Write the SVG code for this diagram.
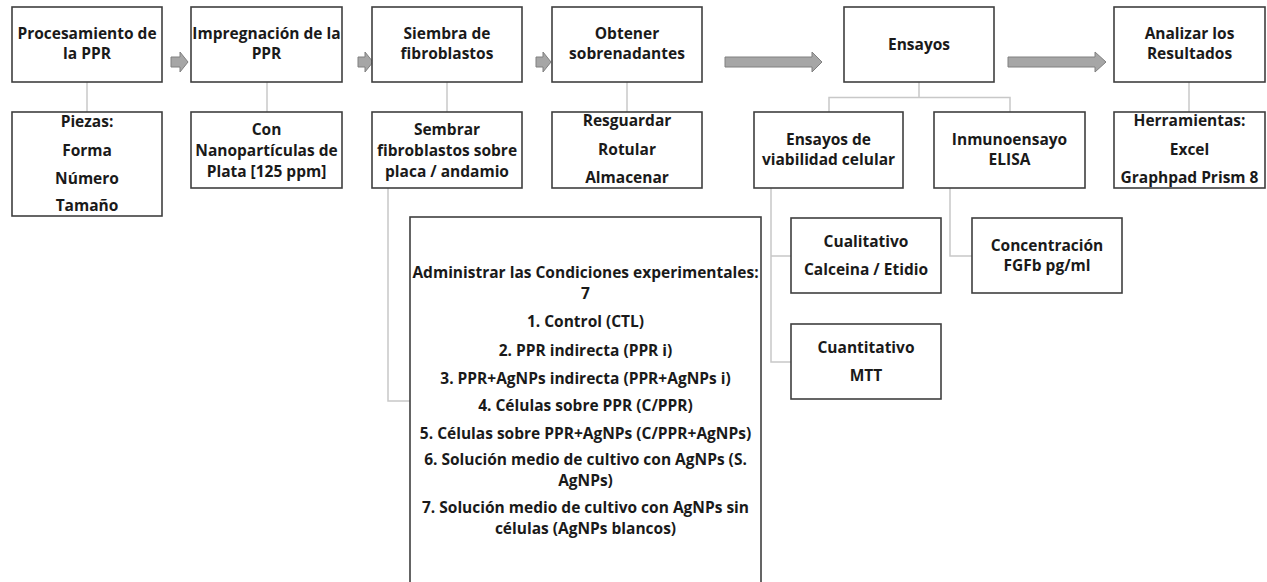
<svg xmlns="http://www.w3.org/2000/svg" width="1267" height="582" viewBox="0 0 1267 582">
<style>
.box{fill:#ffffff;stroke:#3f3f3f;stroke-width:1.6}
.conn{fill:none;stroke:#c8c8c8;stroke-width:1.5}
.arr{fill:#a6a6a6;stroke:#808080;stroke-width:1}
text{font-family:"Open Sans","Liberation Sans",sans-serif;font-weight:700;font-size:15.5px;fill:#1a1a1a;text-anchor:middle}
</style>
<rect width="1267" height="582" fill="#ffffff"/>
<g id="connectors">
<path class="conn" d="M87,82V112"/>
<path class="conn" d="M267,82V112"/>
<path class="conn" d="M447,82V112"/>
<path class="conn" d="M627,82V112"/>
<path class="conn" d="M1189,82V112"/>
<path class="conn" d="M919,82V97.5M829,112V97.5H1010V112"/>
<path class="conn" d="M388,188V401H410"/>
<path class="conn" d="M771,188V362H791M771,256H791"/>
<path class="conn" d="M950,188V256H972"/>
<path class="arr" d="M171,57H180V52L188,62L180,72V67H171Z"/>
<path class="arr" d="M358,57H365V52L373,62L365,72V67H358Z"/>
<path class="arr" d="M536,57H543V52L551,62L543,72V67H536Z"/>
<path class="arr" d="M725,57H812V52L822,62L812,72V67H725Z"/>
<path class="arr" d="M1008,57H1095V52L1106,62L1095,72V67H1008Z"/>
</g>
<g id="n1"><rect class="box" x="12" y="7" width="150" height="75"/><text x="87" y="39">Procesamiento de</text><text x="87" y="59">la PPR</text></g>
<g id="n2"><rect class="box" x="191" y="7" width="151" height="75"/><text x="266.5" y="39">Impregnación de la</text><text x="266.5" y="59">PPR</text></g>
<g id="n3"><rect class="box" x="372" y="7" width="150" height="75"/><text x="447" y="39">Siembra de</text><text x="447" y="59">fibroblastos</text></g>
<g id="n4"><rect class="box" x="552" y="7" width="150" height="75"/><text x="627" y="39">Obtener</text><text x="627" y="59">sobrenadantes</text></g>
<g id="n5"><rect class="box" x="844" y="7" width="150" height="75"/><text x="919" y="50">Ensayos</text></g>
<g id="n6"><rect class="box" x="1114" y="7" width="151" height="75"/><text x="1189.5" y="39">Analizar los</text><text x="1189.5" y="59">Resultados</text></g>
<g id="s1"><rect class="box" x="12" y="112" width="150" height="104"/><text x="87" y="127">Piezas:</text><text x="87" y="156">Forma</text><text x="87" y="184">Número</text><text x="87" y="211">Tamaño</text></g>
<g id="s2"><rect class="box" x="191" y="112" width="151" height="76"/><text x="266.5" y="135">Con</text><text x="266.5" y="156">Nanopartículas de</text><text x="266.5" y="177">Plata [125 ppm]</text></g>
<g id="s3"><rect class="box" x="372" y="112" width="150" height="76"/><text x="447" y="135">Sembrar</text><text x="447" y="156">fibroblastos sobre</text><text x="447" y="177">placa / andamio</text></g>
<g id="s4"><rect class="box" x="552" y="112" width="150" height="76"/><text x="627" y="126">Resguardar</text><text x="627" y="155">Rotular</text><text x="627" y="183">Almacenar</text></g>
<g id="s5"><rect class="box" x="754" y="112" width="149" height="76"/><text x="828.5" y="145">Ensayos de</text><text x="828.5" y="165">viabilidad celular</text></g>
<g id="s6"><rect class="box" x="934" y="112" width="151" height="76"/><text x="1009.5" y="145">Inmunoensayo</text><text x="1009.5" y="165">ELISA</text></g>
<g id="s7"><rect class="box" x="1114" y="112" width="151" height="76"/><text x="1189.5" y="126">Herramientas:</text><text x="1189.5" y="155">Excel</text><text x="1189.5" y="183">Graphpad Prism 8</text></g>
<g id="big"><rect class="box" x="410" y="217" width="351" height="380"/>
<text x="585.5" y="278">Administrar las Condiciones experimentales:</text>
<text x="585.5" y="299">7</text>
<text x="585.5" y="327">1. Control (CTL)</text>
<text x="585.5" y="356">2. PPR indirecta (PPR i)</text>
<text x="585.5" y="384">3. PPR+AgNPs indirecta (PPR+AgNPs i)</text>
<text x="585.5" y="411">4. Células sobre PPR (C/PPR)</text>
<text x="585.5" y="439">5. Células sobre PPR+AgNPs (C/PPR+AgNPs)</text>
<text x="585.5" y="465">6. Solución medio de cultivo con AgNPs (S.</text>
<text x="585.5" y="486">AgNPs)</text>
<text x="585.5" y="513">7. Solución medio de cultivo con AgNPs sin</text>
<text x="585.5" y="534">células (AgNPs blancos)</text>
</g>
<g id="c1"><rect class="box" x="791" y="218" width="150" height="75"/><text x="866" y="247">Cualitativo</text><text x="866" y="275">Calceina / Etidio</text></g>
<g id="c2"><rect class="box" x="791" y="324" width="150" height="75"/><text x="866" y="353">Cuantitativo</text><text x="866" y="381">MTT</text></g>
<g id="c3"><rect class="box" x="972" y="218" width="150" height="75"/><text x="1047" y="251">Concentración</text><text x="1047" y="271">FGFb pg/ml</text></g>
</svg>
